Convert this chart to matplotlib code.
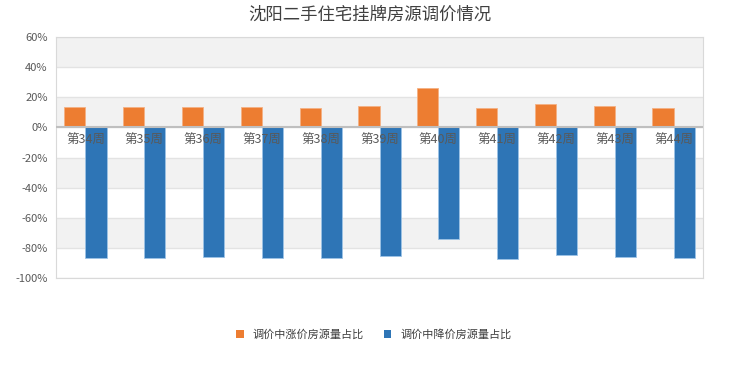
import numpy as np
import matplotlib.pyplot as plt
from matplotlib.patches import Patch
from matplotlib.ticker import FuncFormatter

plt.rcParams['font.family'] = ['Noto Sans CJK SC', 'DejaVu Sans']

weeks = ['第34周', '第35周', '第36周', '第37周', '第38周', '第39周',
         '第40周', '第41周', '第42周', '第43周', '第44周']
up_share = [13.8, 13.8, 13.8, 13.8, 13.1, 14.4, 26.1, 13.1, 15.7, 14.4, 13.1]
down_share = [-87.0, -87.0, -86.3, -87.0, -87.0, -85.7, -73.9, -87.4, -84.6, -86.3, -87.0]

orange = '#ed7d31'
blue = '#2e75b6'


def main():
    fig = plt.figure(figsize=(7.4, 3.7), dpi=100)
    ax = fig.add_axes([0.0757, 0.2486, 0.8743, 0.6514])

    x = np.arange(len(weeks))
    w = 0.36
    ax.bar(x - w / 2, up_share, w, color=orange, edgecolor='#f4b183', linewidth=0.6, zorder=3)
    ax.bar(x + w / 2, down_share, w, color=blue, edgecolor='#9dc3e6', linewidth=0.6, zorder=3)

    ax.set_xlim(-0.5, len(weeks) - 0.5)
    ax.set_ylim(-100, 60)

    # alternating bands
    for lo in range(-100, 60, 20):
        if (lo // 20) % 2 == 0:
            ax.axhspan(lo, lo + 20, color='#f2f2f2', zorder=0, lw=0)
    ax.set_yticks(range(-100, 61, 20))
    ax.yaxis.set_major_formatter(FuncFormatter(lambda v, p: f'{int(v)}%'))
    ax.grid(axis='y', color='#e3e3e3', linewidth=1, zorder=1)
    ax.axhline(0, color='#bfbfbf', linewidth=1.5, zorder=4)
    ax.tick_params(axis='y', length=0, labelsize=8, labelcolor='#595959', pad=6)
    ax.set_xticks([])
    for s in ax.spines.values():
        s.set_color('#d9d9d9')

    for i, lab in enumerate(weeks):
        ax.text(i, -4, lab, ha='center', va='top', fontsize=9, color='#595959', zorder=5)

    fig.suptitle('沈阳二手住宅挂牌房源调价情况', x=0.5, y=0.985, fontsize=12.5, color='#404040')

    handles = [Patch(facecolor=orange, edgecolor='none'), Patch(facecolor=blue, edgecolor='none')]
    fig.legend(handles, ['调价中涨价房源量占比', '调价中降价房源量占比'], loc='center',
               bbox_to_anchor=(0.505, 0.095), ncol=2, frameon=False, fontsize=8,
               handlelength=0.7, handleheight=0.7, columnspacing=1.8, handletextpad=0.8,
               labelcolor='#404040')

    plt.savefig('out.png')


if __name__ == '__main__':
    main()
